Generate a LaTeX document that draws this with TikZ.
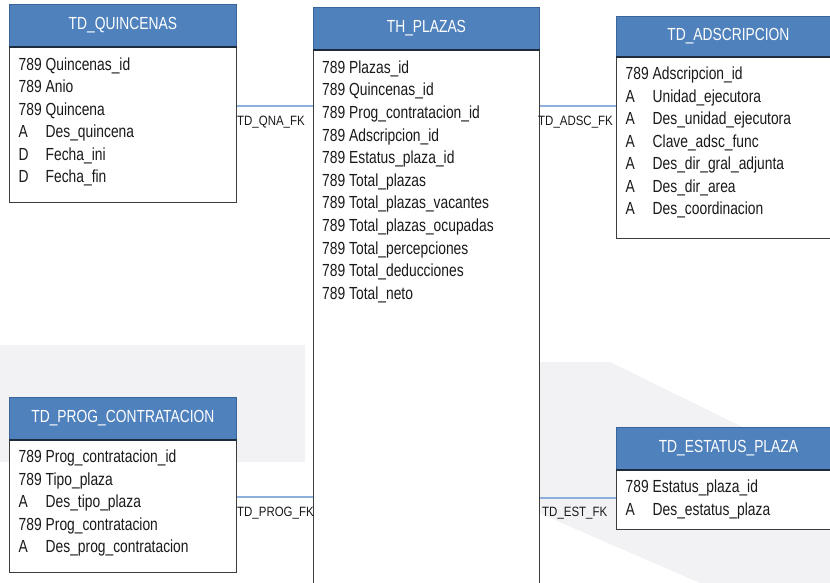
\documentclass[tikz,border=0pt]{standalone}
\usepackage{fontspec}
\usepackage{tikz}
\usetikzlibrary{calc}
\newfontfamily\fieldfont[FakeStretch=0.79]{Liberation Sans}
\newfontfamily\fkfont[FakeStretch=0.85]{Liberation Sans}
\definecolor{headblue}{HTML}{4F81BD}
\definecolor{headedge}{HTML}{3A659A}
\definecolor{headrule}{HTML}{1E2B3C}
\definecolor{boxedge}{HTML}{3C3C3C}
\definecolor{fieldtext}{HTML}{1A1A1A}
\definecolor{fkblue}{HTML}{8DB0DC}
\definecolor{wmgray}{HTML}{F2F2F5}
\tikzset{
  tblhead/.style={draw=headedge, fill=headblue, line width=0.8pt, text=white, anchor=north west,
    inner sep=0pt, minimum height=42pt, font=\fieldfont\fontsize{17.5}{21}\selectfont},
  headline/.style={draw=headrule, line width=1.8pt},
  tblbody/.style={draw=boxedge, fill=white, line width=1.1pt, anchor=north west, inner sep=0pt},
  fld/.style={anchor=base west, inner sep=0pt, text=fieldtext, font=\fieldfont\fontsize{17.5}{21}\selectfont},
  fkline/.style={draw=fkblue, line width=1.4pt},
  fklab/.style={anchor=north west, inner sep=0pt, text=fieldtext, font=\fkfont\fontsize{13.5}{16}\selectfont},
  wm/.style={fill=wmgray},
}

\begin{document}
\begin{tikzpicture}[x=1pt, y=-1pt]
  \useasboundingbox[fill=white] (0,0) rectangle (830,583);
  % faint watermark behind the tables
  \fill[wm] (0,345) rectangle (305,462);
  \fill[wm] (425,453) -- (425,425) .. controls (432,385) and (450,362) .. (480,362)
    -- (610,362) -- (830,470) -- (830,583) -- (700,583) -- (440,470) -- (535,470) -- (535,453) -- cycle;

  % TD_QUINCENAS
  \node[tblhead, minimum width=227pt] (qnaH) at (9,4) {TD\_QUINCENAS};
  \node[tblbody, minimum width=227pt, minimum height=155pt] (qnaB) at (qnaH.south west) {};
  \draw[headline] (qnaH.south west) -- (qnaH.south east);
  \foreach \p/\n [count=\i] in {789/Quincenas\_id, 789/Anio, 789/Quincena,
      A/Des\_quincena, D/Fecha\_ini, D/Fecha\_fin}
    \node[fld] (qnaF\i) at ($(qnaB.north west)+(9.5,23.5+22.5*\i-22.5)$) {\makebox[27pt][l]{\p}\n};

  % TH_PLAZAS
  \node[tblhead, minimum width=226pt] (plzH) at (313,7) {TH\_PLAZAS};
  \node[tblbody, minimum width=226pt, minimum height=560pt] (plzB) at (plzH.south west) {};
  \draw[headline] (plzH.south west) -- (plzH.south east);
  \foreach \p/\n [count=\i] in {789/Plazas\_id, 789/Quincenas\_id, 789/Prog\_contratacion\_id,
      789/Adscripcion\_id, 789/Estatus\_plaza\_id, 789/Total\_plazas, 789/Total\_plazas\_vacantes,
      789/Total\_plazas\_ocupadas, 789/Total\_percepciones, 789/Total\_deducciones, 789/Total\_neto}
    \node[fld] (plzF\i) at ($(plzB.north west)+(9,23.5+22.6*\i-22.6)$) {\makebox[27pt][l]{\p}\n};

  % TD_ADSCRIPCION
  \node[tblhead, minimum width=244pt, minimum height=40pt] (adsH) at (616,16) {\hspace*{-20pt}TD\_ADSCRIPCION};
  \node[tblbody, minimum width=244pt, minimum height=181pt] (adsB) at (adsH.south west) {};
  \draw[headline] (adsH.south west) -- (adsH.south east);
  \foreach \p/\n [count=\i] in {789/Adscripcion\_id, A/Unidad\_ejecutora, A/Des\_unidad\_ejecutora,
      A/Clave\_adsc\_func, A/Des\_dir\_gral\_adjunta, A/Des\_dir\_area, A/Des\_coordinacion}
    \node[fld] (adsF\i) at ($(adsB.north west)+(9.5,23+22.5*\i-22.5)$) {\makebox[27pt][l]{\p}\n};

  % TD_PROG_CONTRATACION
  \node[tblhead, minimum width=227pt] (prgH) at (9,397) {TD\_PROG\_CONTRATACION};
  \node[tblbody, minimum width=227pt, minimum height=132pt] (prgB) at (prgH.south west) {};
  \draw[headline] (prgH.south west) -- (prgH.south east);
  \foreach \p/\n [count=\i] in {789/Prog\_contratacion\_id, 789/Tipo\_plaza, A/Des\_tipo\_plaza,
      789/Prog\_contratacion, A/Des\_prog\_contratacion}
    \node[fld] (prgF\i) at ($(prgB.north west)+(9.5,23+22.5*\i-22.5)$) {\makebox[27pt][l]{\p}\n};

  % TD_ESTATUS_PLAZA
  \node[tblhead, minimum width=244pt] (estH) at (616,427) {\hspace*{-20pt}TD\_ESTATUS\_PLAZA};
  \node[tblbody, minimum width=244pt, minimum height=59pt] (estB) at (estH.south west) {};
  \draw[headline] (estH.south west) -- (estH.south east);
  \foreach \p/\n [count=\i] in {789/Estatus\_plaza\_id, A/Des\_estatus\_plaza}
    \node[fld] (estF\i) at ($(estB.north west)+(9.5,23+22.5*\i-22.5)$) {\makebox[27pt][l]{\p}\n};

  % foreign keys
  \draw[fkline] (qnaB.east |- 0,106) -- (plzB.west |- 0,106);
  \draw[fkline] (plzB.east |- 0,106) -- (adsB.west |- 0,106);
  \draw[fkline] (prgB.east |- 0,497) -- (plzB.west |- 0,497);
  \draw[fkline] (plzB.east |- 0,498) -- (estB.west |- 0,498);
  \node[fklab] (qnaK) at (237,116) {TD\_QNA\_FK};
  \node[fklab] (adsK) at (538,116) {TD\_ADSC\_FK};
  \node[fklab] (prgK) at (237,507) {TD\_PROG\_FK};
  \node[fklab] (estK) at (542,507) {TD\_EST\_FK};
\end{tikzpicture}
\end{document}
